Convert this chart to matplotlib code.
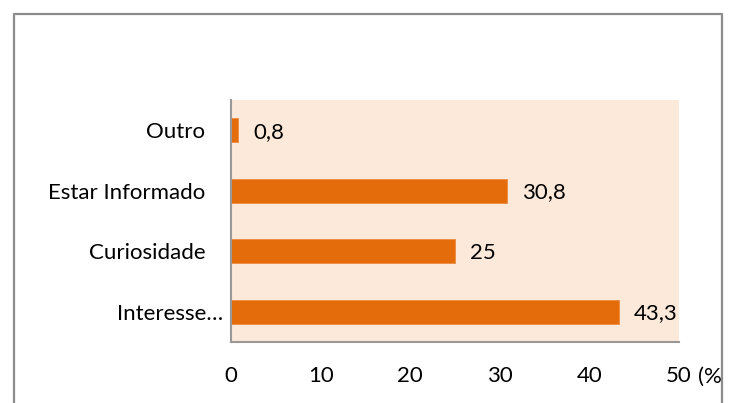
import matplotlib.pyplot as plt
from matplotlib.lines import Line2D
from matplotlib.patches import Rectangle

# Data
categories = ['Interesse\u2026', 'Curiosidade   ', 'Estar Informado   ', 'Outro   ']
values = [43.3, 25, 30.8, 0.8]
value_labels = ['43,3', '25', '30,8', '0,8']
xticks = [0, 10, 20, 30, 40, 50]

bar_color = '#E46C0A'
bg_color = '#FDE9D9'
font = 'Lato'
fs = 16

W, H = 734, 403
fig = plt.figure(figsize=(W / 100, H / 100), dpi=100)
ax = fig.add_axes([231 / W, 1 - 342 / H, 448 / W, 242 / H])
ax.set_facecolor(bg_color)

y = range(len(categories))
ax.barh(y, values, height=0.4, color=bar_color, edgecolor='#EE8A40', linewidth=0.6)
for yi, v, lab in zip(y, values, value_labels):
    ax.annotate(lab, (v, yi), xytext=(11, -1), textcoords='offset points',
                ha='left', va='center', fontsize=fs, family=font)

ax.set_xlim(0, 50)
ax.set_ylim(-0.5, len(categories) - 0.5)
ax.set_xticks(xticks)
ax.set_xticklabels([str(t) for t in xticks], fontsize=fs, family=font)
ax.set_yticks(list(y))
ax.set_yticklabels(categories, fontsize=fs, family=font)
ax.tick_params(axis='both', length=0)
ax.tick_params(axis='x', pad=17)
ax.tick_params(axis='y', pad=6)

for s in ['top', 'right']:
    ax.spines[s].set_visible(False)
for s in ['left', 'bottom']:
    ax.spines[s].set_color('#999999')
    ax.spines[s].set_linewidth(1.5)

# axis unit, cut off by the chart frame
fig.text(698 / W, 1 - 377 / H, '(%)', fontsize=fs, family=font,
         ha='left', va='center')
fig.add_artist(Rectangle((722 / W, 0), 1 - 722 / W, 1, transform=fig.transFigure,
                         facecolor='white', edgecolor='none', zorder=5))

# chart frame
frame = Line2D([14 / W, 14 / W, 722 / W, 722 / W], [0, 1 - 14 / H, 1 - 14 / H, 0],
               transform=fig.transFigure, color='#8C8C8C', linewidth=1.6, zorder=6)
fig.add_artist(frame)

fig.savefig('out.png', dpi=100)
